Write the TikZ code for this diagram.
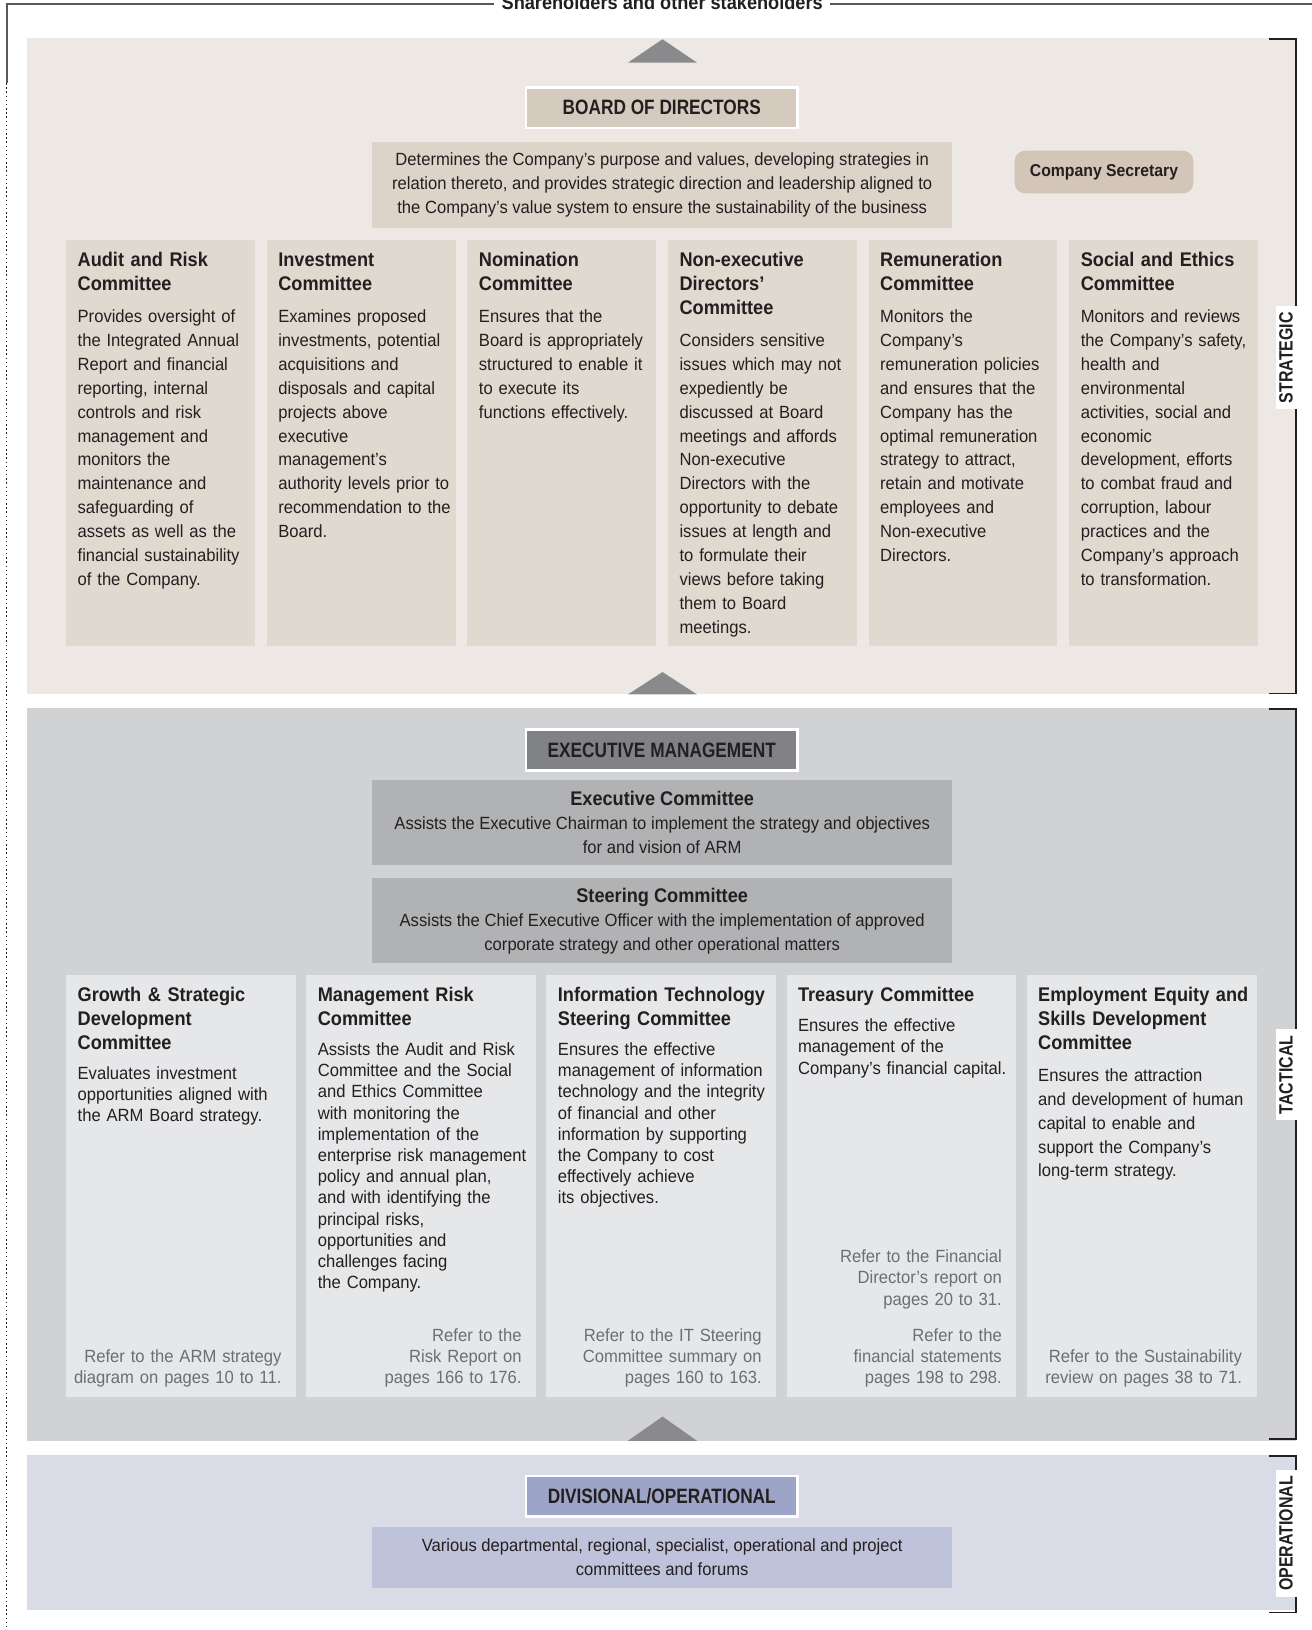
\documentclass[tikz,border=0pt]{standalone}
\usepackage{fontspec}
\setmainfont{Liberation Sans}[FakeStretch=0.94]
\newfontfamily\titlefont{Liberation Sans}[FakeStretch=0.92]
\newfontfamily\headfont{Liberation Sans}[FakeStretch=0.83]
\usepackage{tikz}
\usetikzlibrary{positioning}

\definecolor{ink}{HTML}{231F20}
\definecolor{notegray}{HTML}{6D6E71}
\definecolor{framegray}{HTML}{58595B}
\definecolor{arrowgray}{HTML}{8A8A8C}
\definecolor{stratband}{HTML}{EDE8E3}
\definecolor{stratbox}{HTML}{E0D9D0}
\definecolor{purposebox}{HTML}{DDD4C9}
\definecolor{bodhead}{HTML}{D4CABE}
\definecolor{secbox}{HTML}{D3C6B9}
\definecolor{tactband}{HTML}{D1D2D4}
\definecolor{tactbox}{HTML}{E6E7E8}
\definecolor{exechead}{HTML}{808285}
\definecolor{execbox}{HTML}{B1B2B4}
\definecolor{opband}{HTML}{D9DBE7}
\definecolor{ophead}{HTML}{9CA4C7}
\definecolor{opbox}{HTML}{BEC3DB}

\begin{document}
\begin{tikzpicture}[
      x=1pt, y=-1pt,
      header/.style={draw=white, line width=2.5pt, fill=#1, text=ink, inner sep=0pt,
                     minimum width=261.5pt, minimum height=39pt,
                     font=\headfont\bfseries\fontsize{20}{24}\selectfont},
      panel/.style={fill=#1, text=ink, inner sep=0pt, align=center,
                    minimum width=558pt, font=\fontsize{17}{23}\selectfont},
      stratcomm/.style={fill=stratbox, anchor=north west, inner sep=0pt,
                        minimum width=181.5pt, minimum height=390.5pt},
      tactcomm/.style={fill=tactbox, anchor=north west, inner sep=0pt,
                       minimum width=221pt, minimum height=406pt},
      ctitle/.style={inner sep=0pt, text width=230pt, align=left, text=ink,
                     font=\titlefont\bfseries\fontsize{19}{23}\selectfont,
                     execute at begin node=\strut, execute at end node=\strut},
      cbody/.style={inner sep=0pt, text width=230pt, align=left, text=ink,
                    font=\fontsize{17}{#1}\selectfont,
                    execute at begin node=\strut, execute at end node=\strut},
      cbody/.default=23,
      cnote/.style={inner sep=0pt, text width=230pt, align=right, text=notegray,
                    font=\fontsize{17}{20.4}\selectfont,
                    execute at begin node=\strut, execute at end node=\strut},
      level/.style={fill=white, text=ink, rotate=90, inner xsep=6pt, inner ysep=4pt,
                    text height=12.5pt, text depth=0pt,
                    font=\headfont\bfseries\fontsize{18.5}{22}\selectfont},
      bracket/.style={draw=ink, line width=1.6pt},
      frame/.style={draw=framegray, line width=1.5pt},
      pointer/.style={fill=arrowgray}
  ]
      \useasboundingbox (0,0) rectangle (1262,1568);

      % Faixas dos tres niveis
      \fill[stratband] (26,36.5) rectangle (1246.5,667.5);
      \fill[tactband]  (26,681)  rectangle (1246.5,1386);
      \fill[opband]    (26,1399.5) rectangle (1246.5,1549);

      % Triangulos
      \fill[pointer] (604,60.3)   -- (637.3,37.8)   -- (670.5,60.3)   -- cycle;
      \fill[pointer] (604,668)    -- (637.3,646.5)  -- (670.5,668)    -- cycle;
      \fill[pointer] (604,1386)   -- (637.3,1362.7) -- (670.5,1386)   -- cycle;

      % Acionistas no topo
      \node[fill=white, text=ink, inner xsep=7pt, inner ysep=1pt, anchor=base,
            font=\titlefont\bfseries\fontsize{19}{23}\selectfont]
            (share) at (637,9.6) {Shareholders and other stakeholders};
      \coordinate (tl) at (6.5,3.8);
      \coordinate (tr) at (1262,3.8);
      \coordinate (dl) at (6.5,80);
      \coordinate (bl) at (6.5,1568);
      \draw[frame] (share.west |- tl) -- (tl) -- (dl);
      \draw[frame] (share.east |- tr) -- (tr);
      \draw[ink, line width=1.4pt, dash pattern=on 1.4pt off 2.6pt] (dl) -- (bl);

      % Colchetes e niveis
      \draw[bracket] (1221,37.5) -- (1246.5,37.5) -- (1246.5,667) -- (1221,667);
      \draw[bracket] (1221,682) -- (1246.5,682) -- (1246.5,1384) -- (1221,1384);
      \draw[bracket] (1221,1400.5) -- (1246.5,1400.5) -- (1246.5,1551) -- (1221,1551);
      \node[level] (strat) at (1237.3,344)  {STRATEGIC};
      \node[level] (tact)  at (1237.3,1034) {TACTICAL};
      \node[level] (oper)  at (1237.3,1475) {OPERATIONAL};

      % Conselho
      \node[header=bodhead] (bod) at (636.6,103.5) {BOARD OF DIRECTORS};
      \node[panel=purposebox, minimum height=82pt] (purpose) at (637,178)
            {Determines the Company’s purpose and values, developing strategies in\\
             relation thereto, and provides strategic direction and leadership aligned to\\
             the Company’s value system to ensure the sustainability of the business};
      \node[fill=secbox, text=ink, rounded corners=10pt, inner sep=0pt,
            minimum width=172pt, minimum height=41pt,
            font=\titlefont\bfseries\fontsize{16.5}{20}\selectfont]
            (sec) at (1062,165.5) {Company Secretary};

      % Comites do conselho
      \node[stratcomm] (arc) at (63.5,231) {};
      \node[ctitle, below right=9.5pt and 11pt of arc.north west] (arct) {Audit and Risk\\Committee};
      \node[cbody, below right=7pt and 0pt of arct.south west] (arcb)
            {Provides oversight of\\the Integrated Annual\\Report and financial\\reporting, internal\\controls and risk\\management and\\monitors the\\maintenance and\\safeguarding of\\assets as well as the\\financial sustainability\\of the Company.};

      \node[stratcomm] (inv) at (256.5,231) {};
      \node[ctitle, below right=9.5pt and 11pt of inv.north west] (invt) {Investment\\Committee};
      \node[cbody, below right=7pt and 0pt of invt.south west] (invb)
            {Examines proposed\\investments, potential\\acquisitions and\\disposals and capital\\projects above\\executive\\management’s\\authority levels prior to\\recommendation to the\\Board.};

      \node[stratcomm] (nom) at (449.5,231) {};
      \node[ctitle, below right=9.5pt and 11pt of nom.north west] (nomt) {Nomination\\Committee};
      \node[cbody, below right=7pt and 0pt of nomt.south west] (nomb)
            {Ensures that the\\Board is appropriately\\structured to enable it\\to execute its\\functions effectively.};

      \node[stratcomm] (ned) at (642.5,231) {};
      \node[ctitle, below right=9.5pt and 11pt of ned.north west] (nedt) {Non-executive\\Directors’\\Committee};
      \node[cbody, below right=7pt and 0pt of nedt.south west] (nedb)
            {Considers sensitive\\issues which may not\\expediently be\\discussed at Board\\meetings and affords\\Non-executive\\Directors with the\\opportunity to debate\\issues at length and\\to formulate their\\views before taking\\them to Board\\meetings.};

      \node[stratcomm] (rem) at (835.5,231) {};
      \node[ctitle, below right=9.5pt and 11pt of rem.north west] (remt) {Remuneration\\Committee};
      \node[cbody, below right=7pt and 0pt of remt.south west] (remb)
            {Monitors the\\Company’s\\remuneration policies\\and ensures that the\\Company has the\\optimal remuneration\\strategy to attract,\\retain and motivate\\employees and\\Non-executive\\Directors.};

      \node[stratcomm] (soc) at (1028.5,231) {};
      \node[ctitle, below right=9.5pt and 11pt of soc.north west] (soct) {Social and Ethics\\Committee};
      \node[cbody, below right=7pt and 0pt of soct.south west] (socb)
            {Monitors and reviews\\the Company’s safety,\\health and\\environmental\\activities, social and\\economic\\development, efforts\\to combat fraud and\\corruption, labour\\practices and the\\Company’s approach\\to transformation.};

      % Gestao executiva
      \node[header=exechead] (exec) at (636.6,721.5) {EXECUTIVE MANAGEMENT};
      \node[panel=execbox, minimum height=82pt] (exco) at (637,791.5)
            {{\titlefont\bfseries\fontsize{19}{23}\selectfont Executive Committee}\\
             Assists the Executive Chairman to implement the strategy and objectives\\
             for and vision of ARM};
      \node[panel=execbox, minimum height=82pt] (steer) at (637,885.8)
            {{\titlefont\bfseries\fontsize{19}{23}\selectfont Steering Committee}\\
             Assists the Chief Executive Officer with the implementation of approved\\
             corporate strategy and other operational matters};

      % Comites executivos
      \node[tactcomm] (gro) at (63.5,938) {};
      \node[ctitle, below right=9.5pt and 11pt of gro.north west] (grot) {Growth \& Strategic\\Development\\Committee};
      \node[cbody=20.4, below right=7pt and 0pt of grot.south west] (grob)
            {Evaluates investment\\opportunities aligned with\\the ARM Board strategy.};
      \node[cnote, above left=7pt and 14pt of gro.south east] (gron)
            {Refer to the ARM strategy\\diagram on pages 10 to 11.};

      \node[tactcomm] (mrc) at (294.5,938) {};
      \node[ctitle, below right=9.5pt and 11pt of mrc.north west] (mrct) {Management Risk\\Committee};
      \node[cbody=20.4, below right=7pt and 0pt of mrct.south west] (mrcb)
            {Assists the Audit and Risk\\Committee and the Social\\and Ethics Committee\\with monitoring the\\implementation of the\\enterprise risk management\\policy and annual plan,\\and with identifying the\\principal risks,\\opportunities and\\challenges facing\\the Company.};
      \node[cnote, above left=7pt and 14pt of mrc.south east] (mrcn)
            {Refer to the\\Risk Report on\\pages 166 to 176.};

      \node[tactcomm] (its) at (525.5,938) {};
      \node[ctitle, below right=9.5pt and 11pt of its.north west] (itst) {Information Technology\\Steering Committee};
      \node[cbody=20.4, below right=7pt and 0pt of itst.south west] (itsb)
            {Ensures the effective\\management of information\\technology and the integrity\\of financial and other\\information by supporting\\the Company to cost\\effectively achieve\\its objectives.};
      \node[cnote, above left=7pt and 14pt of its.south east] (itsn)
            {Refer to the IT Steering\\Committee summary on\\pages 160 to 163.};

      \node[tactcomm] (tre) at (756.5,938) {};
      \node[ctitle, below right=9.5pt and 11pt of tre.north west] (tret) {Treasury Committee};
      \node[cbody=20.4, below right=7pt and 0pt of tret.south west] (treb)
            {Ensures the effective\\management of the\\Company’s financial capital.};
      \node[cnote, above left=7pt and 14pt of tre.south east] (tren2)
            {Refer to the\\financial statements\\pages 198 to 298.};
      \node[cnote, above left=14pt and 0pt of tren2.north east] (tren1)
            {Refer to the Financial\\Director’s report on\\pages 20 to 31.};

      \node[tactcomm] (eed) at (987.5,938) {};
      \node[ctitle, below right=9.5pt and 11pt of eed.north west] (eedt) {Employment Equity and\\Skills Development\\Committee};
      \node[cbody, below right=7pt and 0pt of eedt.south west] (eedb)
            {Ensures the attraction\\and development of human\\capital to enable and\\support the Company’s\\long-term strategy.};
      \node[cnote, above left=7pt and 14pt of eed.south east] (eedn)
            {Refer to the Sustainability\\review on pages 38 to 71.};

      % Nivel operacional
      \node[header=ophead] (div) at (636.6,1439.5) {DIVISIONAL/OPERATIONAL};
      \node[panel=opbox, minimum height=58.5pt] (forums) at (637,1498)
            {Various departmental, regional, specialist, operational and project\\
             committees and forums};
  \end{tikzpicture}
\end{document}
